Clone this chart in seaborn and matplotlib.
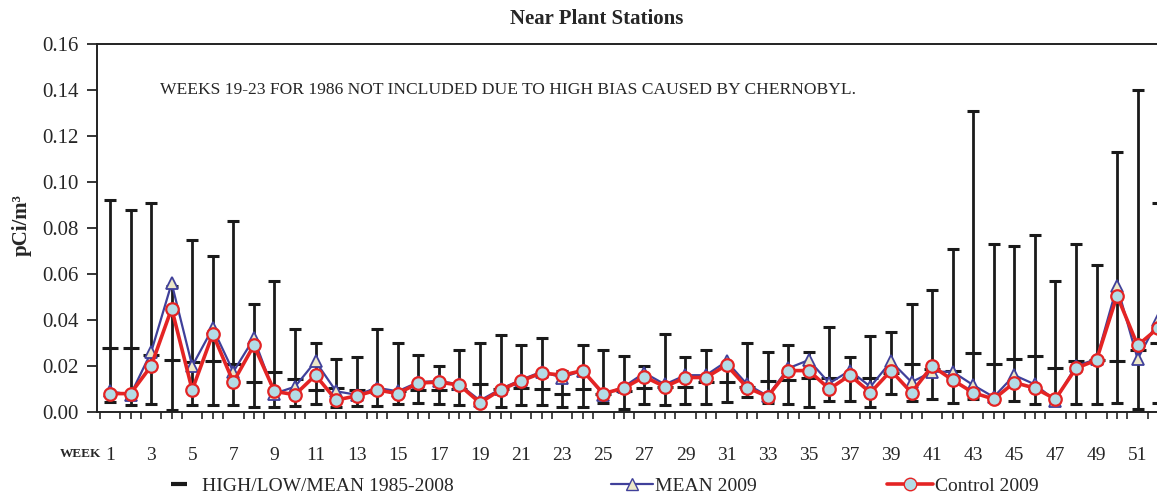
import matplotlib
matplotlib.use("Agg")
import matplotlib.pyplot as plt
import seaborn as sns
import numpy as np
from matplotlib.lines import Line2D

# weekly values, pCi/m3
weeks = list(range(1, 53))
hist_high = [0.092, 0.088, 0.091, 0.055, 0.075, 0.068, 0.083, 0.047, 0.057, 0.036,
             0.030, 0.023, 0.024, 0.036, 0.030, 0.025, 0.020, 0.027, 0.030, 0.0335,
             0.029, 0.032, 0.018, 0.029, 0.027, 0.0245, 0.020, 0.034, 0.024, 0.027,
             0.021, 0.030, 0.026, 0.029, 0.026, 0.037, 0.024, 0.033, 0.035, 0.047,
             0.053, 0.071, 0.131, 0.073, 0.072, 0.077, 0.057, 0.073, 0.064, 0.113,
             0.140, 0.091]
hist_low = [0.0045, 0.003, 0.0035, 0.001, 0.003, 0.003, 0.003, 0.002, 0.002, 0.0028,
            0.0035, 0.002, 0.0026, 0.0026, 0.0035, 0.004, 0.0035, 0.003, 0.003, 0.002,
            0.003, 0.003, 0.002, 0.002, 0.004, 0.0013, 0.0035, 0.003, 0.0035, 0.0035,
            0.0043, 0.0067, 0.004, 0.0035, 0.0023, 0.0048, 0.005, 0.0023, 0.0078, 0.005,
            0.0056, 0.0038, 0.0056, 0.0056, 0.005, 0.0035, 0.005, 0.0035, 0.0035, 0.004,
            0.0012, 0.004]
hist_mean = [0.028, 0.028, 0.025, 0.0226, 0.0217, 0.022, 0.021, 0.013, 0.0174, 0.0143,
             0.0096, 0.0105, 0.0096, 0.0096, 0.009, 0.0096, 0.0096, 0.010, 0.012, 0.010,
             0.0106, 0.010, 0.008, 0.010, 0.008, 0.009, 0.0104, 0.011, 0.011, 0.013,
             0.013, 0.011, 0.0136, 0.014, 0.0148, 0.015, 0.015, 0.015, 0.017, 0.021,
             0.0187, 0.018, 0.0256, 0.021, 0.023, 0.0243, 0.0193, 0.0223, 0.0226, 0.022,
             0.027, 0.030]
mean_2009 = [0.009, 0.0075, 0.026, 0.056, 0.020, 0.0365, 0.0175, 0.032, 0.008, 0.011,
             0.022, 0.009, 0.0075, 0.0105, 0.009, 0.013, 0.0135, 0.012, 0.005, 0.010,
             0.014, 0.0175, 0.015, 0.018, 0.0075, 0.011, 0.017, 0.012, 0.016, 0.016,
             0.022, 0.012, 0.007, 0.019, 0.0226, 0.0125, 0.018, 0.011, 0.022, 0.013,
             0.0175, 0.0175, 0.0117, 0.0065, 0.016, 0.012, 0.005, 0.020, 0.023, 0.0548,
             0.023, 0.040]
control_2009 = [0.008, 0.008, 0.020, 0.045, 0.0096, 0.034, 0.013, 0.029, 0.009, 0.0075,
                0.016, 0.0052, 0.007, 0.0096, 0.008, 0.0126, 0.013, 0.0117, 0.004, 0.0096,
                0.0135, 0.017, 0.016, 0.018, 0.008, 0.0104, 0.0153, 0.011, 0.015, 0.015,
                0.0204, 0.0106, 0.0067, 0.018, 0.018, 0.010, 0.016, 0.0084, 0.018, 0.0084,
                0.020, 0.0139, 0.0084, 0.0056, 0.0128, 0.0104, 0.0056, 0.019, 0.0226, 0.0506,
                0.029, 0.0365]

sns.set_style("ticks")
plt.rcParams['font.family'] = ['Liberation Serif', 'DejaVu Serif']

fig = plt.figure(figsize=(11.57, 4.97), dpi=100)
fig.set_facecolor('white')
ax = fig.add_axes([97 / 1157, 85 / 497, 1092 / 1157, 368 / 497])

# historical high / low / mean bars
h = np.array(hist_high)
l = np.array(hist_low)
m = np.array(hist_mean)
ax.errorbar(weeks, m, yerr=[m - l, h - m], fmt='_', color='#1a1a1a', ecolor='#1a1a1a',
            markersize=11, markeredgewidth=2.2, elinewidth=2, capsize=4, capthick=2, zorder=2)

# 2009 series
sns.lineplot(x=weeks, y=mean_2009, ax=ax, color='#40409a', linewidth=1.6, marker='^',
             markersize=9, markerfacecolor='#ece8c8', markeredgecolor='#40409a',
             markeredgewidth=1.3, zorder=3)
sns.lineplot(x=weeks, y=control_2009, ax=ax, color='#e42424', linewidth=2.6, marker='o',
             markersize=9, markerfacecolor='#b4dce6', markeredgecolor='#e42424',
             markeredgewidth=1.6, zorder=4)

ax.set_xlim(0.367, 53.5)
ax.set_ylim(0, 0.16)
ax.set_yticks(np.arange(0, 0.161, 0.02))
ax.yaxis.set_major_formatter(matplotlib.ticker.FormatStrFormatter('%.2f'))
ax.tick_params(axis='y', labelsize=15, length=7, width=1.3, direction='out', pad=6)

ax.set_xticks(range(1, 53, 2))
ax.set_xticks(np.arange(0.5, 53.5, 0.5), minor=True)
ax.tick_params(axis='x', which='major', length=0, labelsize=14, pad=25)
ax.tick_params(axis='x', which='minor', length=5, width=1.2, direction='out')
ax.set_xlabel('')
ax.set_ylabel('')
for s in ax.spines.values():
    s.set_linewidth(1.4)
    s.set_color('#222222')

fig.text(160 / 1157, 1 - 90 / 497,
         'WEEKS 19-23 FOR 1986 NOT INCLUDED DUE TO HIGH BIAS CAUSED BY CHERNOBYL.',
         fontsize=12.6, va='center', ha='left')

fig.text(597 / 1157, 1 - 19 / 497, 'Near Plant Stations', fontsize=15, fontweight='bold',
         ha='center', va='center')
fig.text(22 / 1157, 1 - 225 / 497, 'pCi/m³', fontsize=15, fontweight='bold', rotation=90,
         ha='center', va='center')
fig.text(80 / 1157, 1 - 454 / 497, 'WEEK', fontsize=9.5, fontweight='bold', ha='center',
         va='center')

# legend, three separate entries along the bottom
h1 = Line2D([], [], color='#1a1a1a', marker='_', linestyle='none', markersize=12,
            markeredgewidth=3)
h2 = Line2D([], [], color='#40409a', linewidth=1.6, marker='^', markersize=9,
            markerfacecolor='#ece8c8', markeredgecolor='#40409a')
h3 = Line2D([], [], color='#e42424', linewidth=2.6, marker='o', markersize=9,
            markerfacecolor='#b4dce6', markeredgecolor='#e42424')
ly = 1 - 486 / 497
fig.legend([h1], ['HIGH/LOW/MEAN 1985-2008'], loc='center left', bbox_to_anchor=(150 / 1157, ly),
           frameon=False, fontsize=14, handlelength=1.2, handletextpad=0.6)
fig.legend([h2], ['MEAN 2009'], loc='center left', bbox_to_anchor=(593 / 1157, ly),
           frameon=False, fontsize=14, handlelength=2.2, handletextpad=0.1)
fig.legend([h3], ['Control 2009'], loc='center left', bbox_to_anchor=(869 / 1157, ly),
           frameon=False, fontsize=14, handlelength=2.4, handletextpad=0.1)

fig.savefig('out.png', dpi=100, facecolor='white')
